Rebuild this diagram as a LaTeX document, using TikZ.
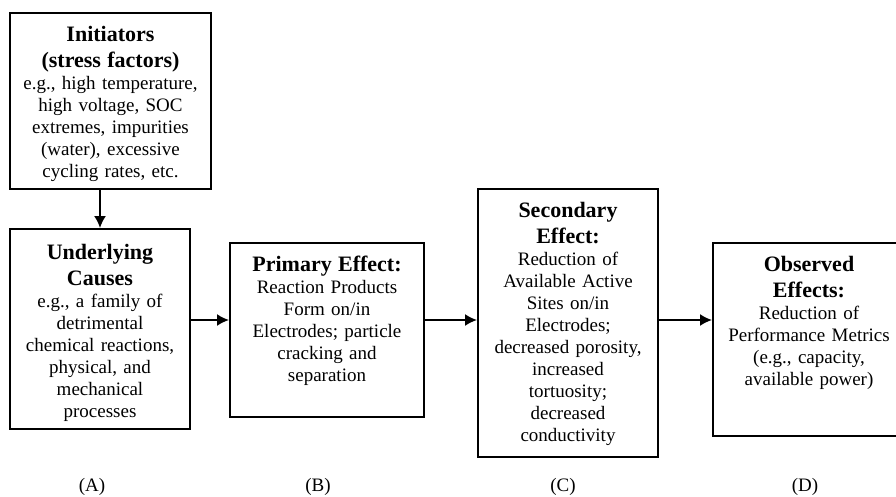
\documentclass[tikz,border=0pt]{standalone}
\usepackage{fontspec}
\setmainfont{Liberation Serif}
\usetikzlibrary{arrows.meta,positioning}

\newcommand\stagehead[1]{{\fontsize{22}{26}\selectfont\bfseries #1\par}}

\tikzset{
  stage/.style={draw, line width=2pt, inner sep=0pt},
  stagetext/.style={inner sep=0pt, align=center, font=\fontsize{19}{22}\selectfont},
  flow/.style={line width=1.8pt, -{Latex[length=12pt,width=12pt]}},
  tag/.style={anchor=base, inner sep=0pt, font=\fontsize{19}{22}\selectfont},
}

\begin{document}
\begin{tikzpicture}[x=1pt,y=-1pt]
\useasboundingbox (0,0) rectangle (896,496);
% boxes
\node[stage, minimum width=201pt, minimum height=176pt] (init) at (110.5,101) {};
\node[stage, minimum width=180pt, minimum height=200pt] (cause) at (100,329) {};
\node[stage, minimum width=194pt, minimum height=174pt] (primary) at (327,330) {};
\node[stage, minimum width=180pt, minimum height=268pt] (second) at (568,323) {};
\node[stage, minimum width=192pt, minimum height=193pt] (observed) at (809,339.5) {};
% box texts
\node[stagetext, text width=197pt, below=14pt of init.north] (initT)
  {\stagehead{Initiators\\(stress factors)}
   e.g., high temperature,\\ high voltage, SOC\\ extremes, impurities\\ (water), excessive\\ cycling rates, etc.};
\node[stagetext, text width=176pt, below=16pt of cause.north] (causeT)
  {\stagehead{Underlying\\Causes}
   e.g., a family of\\ detrimental\\ chemical reactions,\\ physical, and\\ mechanical\\ processes};
\node[stagetext, text width=190pt, below=14pt of primary.north] (primaryT)
  {\stagehead{Primary Effect:}
   Reaction Products\\ Form on/in\\ Electrodes; particle\\ cracking and\\ separation};
\node[stagetext, text width=176pt, below=14pt of second.north] (secondT)
  {\stagehead{Secondary\\Effect:}
   Reduction of\\ Available Active\\ Sites on/in\\ Electrodes;\\ decreased porosity,\\ increased\\ tortuosity;\\ decreased\\ conductivity};
\node[stagetext, text width=188pt, below=14pt of observed.north] (observedT)
  {\stagehead{Observed\\Effects:}
   Reduction of\\ Performance Metrics\\ (e.g., capacity,\\ available power)};
% connectors
\coordinate (axis) at (0,320);
\draw[flow] (init.south -| cause.north) -- (cause.north);
\draw[flow] (cause.east |- axis) -- (primary.west |- axis);
\draw[flow] (primary.east |- axis) -- (second.west |- axis);
\draw[flow] (second.east |- axis) -- (observed.west |- axis);
% stage tags
\node[tag] (tagA) at (92,491) {(A)};
\node[tag] (tagB) at (318,491) {(B)};
\node[tag] (tagC) at (563,491) {(C)};
\node[tag] (tagD) at (805,491) {(D)};
\end{tikzpicture}
\end{document}
